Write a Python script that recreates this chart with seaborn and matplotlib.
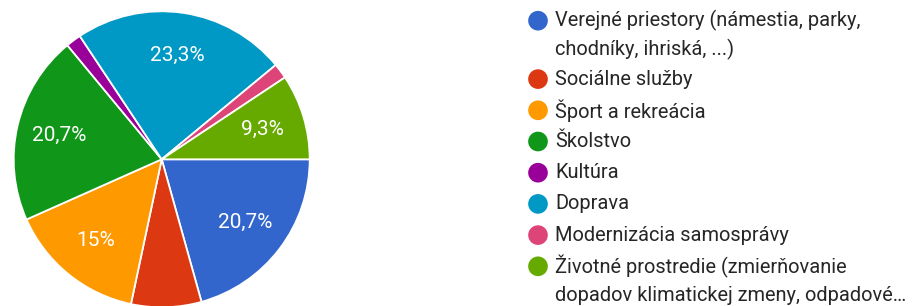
import matplotlib
matplotlib.use("Agg")
import matplotlib.pyplot as plt
import seaborn as sns

# ==== DATA ====
categories = [
    "Verejné priestory (námestia, parky,\nchodníky, ihriská, ...)",
    "Sociálne služby",
    "Šport a rekreácia",
    "Školstvo",
    "Kultúra",
    "Doprava",
    "Modernizácia samosprávy",
    "Životné prostredie (zmierňovanie\ndopadov klimatickej zmeny, odpadové…",
]
counts = [62, 23, 45, 62, 5, 70, 5, 28]
colors = ["#3366cc", "#dc3912", "#ff9900", "#109618",
          "#990099", "#0099c6", "#dd4477", "#66aa00"]

sns.set_theme(style="white")
plt.rcParams["font.family"] = ["Roboto", "DejaVu Sans"]

W, H = 913, 306
fig = plt.figure(figsize=(W / 100, H / 100), dpi=100)
fig.patch.set_facecolor("white")


def pct_label(p):
    # google forms only labels the bigger slices
    if p < 8:
        return ""
    s = f"{p:.1f}"
    if s.endswith(".0"):
        s = s[:-2]
    return s.replace(".", ",") + "%"


# ==== PIE ====
cx, cy, r = 161.7, 146.7, 148
ax = fig.add_axes([(cx - r) / W, (cy - r) / H, 2 * r / W, 2 * r / H])
wedges, texts, autotexts = ax.pie(
    counts, colors=colors, startangle=0, counterclock=False,
    autopct=pct_label, pctdistance=0.71,
    wedgeprops=dict(edgecolor="white", linewidth=1.3),
    textprops=dict(color="white", fontsize=15),
)
ax.set_xlim(-1, 1)
ax.set_ylim(-1, 1)
ax.set_aspect("equal")

# ==== LEGEND ====
lax = fig.add_axes([0, 0, 1, 1])
lax.set_xlim(0, W)
lax.set_ylim(H, 0)
lax.axis("off")

y = 20.7
for label, col in zip(categories, colors):
    lax.scatter([538], [y], s=200, color=col, edgecolor="none")
    lines = label.split("\n")
    for i, line in enumerate(lines):
        lax.text(555, y + i * 28.8, line, fontsize=14.4, color="#262626",
                 va="center", ha="left")
    y += 31.2 + 27.2 * (len(lines) - 1)

fig.savefig("out.png", dpi=100, facecolor="white")
